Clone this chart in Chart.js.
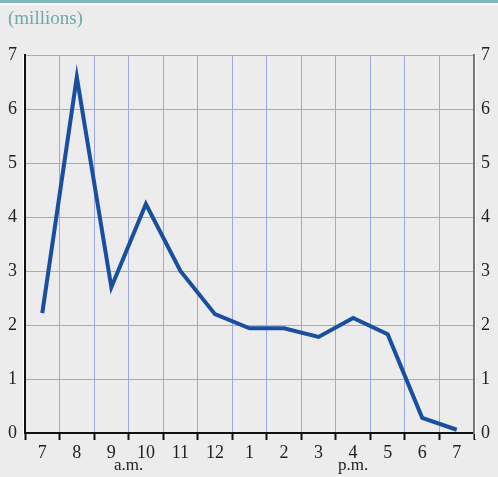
<!DOCTYPE html>
<html>
<head>
<meta charset="utf-8">
<script src="https://cdn.jsdelivr.net/npm/chart.js@4"></script>
<style>
  html, body { margin: 0; padding: 0; background: #ececec; }
  #wrap { width: 498px; height: 477px; position: relative; }
</style>
</head>
<body>
<div id="wrap"><canvas id="c"></canvas></div>
<script>
// hours of the day, 7 a.m. to 7 p.m.
const hours = ['7', '8', '9', '10', '11', '12', '1', '2', '3', '4', '5', '6', '7'];
// values in millions
const values = [2.22, 6.59, 2.70, 4.24, 3.0, 2.2, 1.94, 1.94, 1.78, 2.13, 1.83, 0.28, 0.06];
const unitLabel = '(millions)';
const periodLabels = [
  { text: 'a.m.', from: 2, to: 3 },
  { text: 'p.m.', from: 9, to: 9 },
];

const serif = '"Liberation Serif", "DejaVu Serif", serif';

const decorPlugin = {
  id: 'decor',
  beforeDraw(chart) {
    const { ctx, width } = chart;
    ctx.save();
    ctx.fillStyle = '#ececec';
    ctx.fillRect(0, 0, width, chart.height);
    ctx.fillStyle = '#7fb5b8';
    ctx.fillRect(0, 0, width, 3);
    ctx.fillStyle = '#fafafa';
    ctx.fillRect(0, 3, width, 2);
    ctx.fillStyle = '#6ea8ab';
    ctx.font = '19px ' + serif;
    ctx.textBaseline = 'alphabetic';
    ctx.fillText(unitLabel, 8, 24);
    ctx.restore();
  },
  afterDraw(chart) {
    const { ctx, chartArea } = chart;
    const x = chart.scales.x;
    ctx.save();
    // light edges beside the axes
    ctx.strokeStyle = '#ffffff';
    ctx.lineWidth = 1;
    ctx.beginPath();
    ctx.moveTo(chartArea.left - 1.5, chartArea.top);
    ctx.lineTo(chartArea.left - 1.5, chartArea.bottom + 6);
    ctx.moveTo(chartArea.right + 1.5, chartArea.top);
    ctx.lineTo(chartArea.right + 1.5, chartArea.bottom + 6);
    ctx.stroke();
    ctx.fillStyle = '#222';
    ctx.font = '17px ' + serif;
    ctx.textAlign = 'center';
    ctx.textBaseline = 'alphabetic';
    for (const p of periodLabels) {
      const px = (x.getPixelForValue(p.from) + x.getPixelForValue(p.to)) / 2;
      ctx.fillText(p.text, px, 470);
    }
    ctx.restore();
  },
};

new Chart(document.getElementById('c'), {
  type: 'line',
  data: {
    labels: hours,
    datasets: [{
      data: values,
      borderColor: '#1a4fa0',
      borderWidth: 4,
      pointRadius: 0,
      tension: 0,
      fill: false,
      yAxisID: 'y',
    }],
  },
  plugins: [decorPlugin],
  options: {
    responsive: true,
    maintainAspectRatio: false,
    animation: false,
    layout: { padding: { top: 55, left: 0, right: 0, bottom: 0 } },
    plugins: {
      legend: { display: false },
      tooltip: { enabled: false },
    },
    scales: {
      x: {
        offset: true,
        grid: {
          offset: true,
          color: '#9ea8e0',
          lineWidth: 1,
          drawTicks: true,
          tickLength: 7,
          tickColor: '#111',
          tickWidth: 2,
        },
        border: { color: '#111', width: 2 },
        ticks: {
          color: '#222',
          font: { family: serif, size: 18 },
          padding: 2,
          maxRotation: 0,
          autoSkip: false,
        },
        afterFit(scale) { scale.height = 44; },
      },
      y: {
        position: 'left',
        min: 0,
        max: 7,
        grid: { color: '#9ea8e0', lineWidth: 1, drawTicks: false },
        border: { color: '#111', width: 2 },
        ticks: {
          stepSize: 1,
          color: '#222',
          font: { family: serif, size: 18 },
          padding: 8,
        },
        afterFit(scale) { scale.width = 25; },
      },
      y2: {
        position: 'right',
        min: 0,
        max: 7,
        grid: { drawOnChartArea: false, drawTicks: false },
        border: { color: '#777', width: 2 },
        ticks: {
          stepSize: 1,
          color: '#222',
          font: { family: serif, size: 18 },
          padding: 7,
        },
        afterFit(scale) { scale.width = 24; },
      },
    },
  },
});
</script>
</body>
</html>
